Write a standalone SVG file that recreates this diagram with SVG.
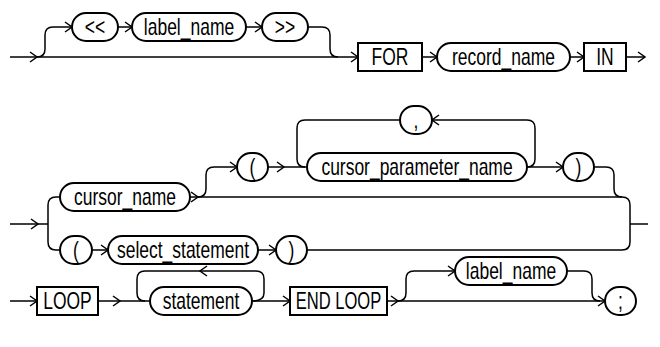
<svg xmlns="http://www.w3.org/2000/svg" width="660" height="347" viewBox="0 0 660 347">
<defs>
<style>
.n{fill:#fff;stroke:#000;stroke-width:2}
.t{font-family:"Liberation Sans",Arial,sans-serif;font-size:23px;fill:#000;text-anchor:middle}
.c{fill:none;stroke:#000;stroke-width:1.5}
</style>
<path id="ar" d="M-7,-5 L0,0 L-7,5" fill="none" stroke="#000" stroke-width="1.5"/>
<path id="al" d="M7,-5 L0,0 L7,5" fill="none" stroke="#000" stroke-width="1.5"/>
</defs>
<rect width="660" height="347" fill="#fff"/>
<g id="connectors">
<path class="c" d="M10,57 H358"/>
<path class="c" d="M37,57 Q45,57 45,49 V35 Q45,27 53,27 H72"/>
<path class="c" d="M118,27 H132 M246,27 H262"/>
<path class="c" d="M308,27 H322 Q330,27 330,35 V49 Q330,57 338,57"/>
<path class="c" d="M422,57 H437 M570,57 H584 M626,57 H645"/>
<use href="#ar" x="37" y="57"/><use href="#ar" x="72" y="27"/><use href="#ar" x="132" y="27"/><use href="#ar" x="262" y="27"/>
<use href="#ar" x="358" y="57"/><use href="#ar" x="437" y="57"/><use href="#ar" x="584" y="57"/><use href="#ar" x="645" y="57"/>

<path class="c" d="M10,224 H48 M48,224 V205 Q48,197 56,197 H60 M48,224 V242 Q48,250 56,250 H60"/>
<path class="c" d="M190,197 H622 Q630,197 630,205 V242 Q630,250 622,250 H307"/>
<path class="c" d="M198,197 Q206,197 206,189 V175 Q206,167 214,167 H237"/>
<path class="c" d="M268,167 H307"/>
<path class="c" d="M527,167 Q535,167 535,159 V128 Q535,120 527,120 H432 M400,120 H305 Q297,120 297,128 V159 Q297,167 305,167"/>
<path class="c" d="M527,167 H563"/>
<path class="c" d="M594,167 H606 Q614,167 614,175 V189 Q614,197 622,197"/>
<path class="c" d="M630,224 H648"/>
<path class="c" d="M92,250 H108 M258,250 H276"/>
<use href="#ar" x="38" y="224"/><use href="#ar" x="198" y="197"/><use href="#ar" x="237" y="167"/><use href="#ar" x="284" y="167"/>
<use href="#al" x="432" y="120"/><use href="#ar" x="563" y="167"/><use href="#ar" x="108" y="250"/><use href="#ar" x="276" y="250"/>

<path class="c" d="M10,301 H37 M98,301 H150"/>
<path class="c" d="M252,301 Q264,301 264,293 V279 Q264,271 256,271 H145 Q137,271 137,279 V293 Q137,301 145,301"/>
<path class="c" d="M252,301 H290 M387,301 H605"/>
<path class="c" d="M398,301 Q406,301 406,293 V279 Q406,271 414,271 H455"/>
<path class="c" d="M567,271 H584 Q592,271 592,279 V293 Q592,301 600,301"/>
<use href="#ar" x="37" y="301"/><use href="#ar" x="120" y="301"/><use href="#al" x="200" y="271"/><use href="#ar" x="290" y="301"/>
<use href="#ar" x="398" y="301"/><use href="#ar" x="455" y="271"/><use href="#ar" x="605" y="301"/>
</g>

<g id="n_lt"><rect class="n" x="72" y="13" width="46" height="28" rx="14"/><text class="t" transform="translate(95,35) scale(0.76,1)">&lt;&lt;</text></g>
<g id="n_label1"><rect class="n" x="132" y="13" width="114" height="28" rx="14"/><text class="t" transform="translate(189,35) scale(0.76,1)">label_name</text></g>
<g id="n_gt"><rect class="n" x="262" y="13" width="46" height="28" rx="14"/><text class="t" transform="translate(285,35) scale(0.76,1)">&gt;&gt;</text></g>
<g id="n_for"><rect class="n" x="358" y="43" width="64" height="28"/><text class="t" transform="translate(390,65) scale(0.76,1)">FOR</text></g>
<g id="n_record"><rect class="n" x="437" y="43" width="133" height="28" rx="14"/><text class="t" transform="translate(503.5,65) scale(0.76,1)">record_name</text></g>
<g id="n_in"><rect class="n" x="584" y="43" width="42" height="28"/><text class="t" transform="translate(605,65) scale(0.76,1)">IN</text></g>

<g id="n_comma"><rect class="n" x="400" y="106" width="32" height="28" rx="14"/><text class="t" transform="translate(416,128) scale(0.76,1)">,</text></g>
<g id="n_lp1"><rect class="n" x="237" y="153" width="31" height="28" rx="14"/><text class="t" transform="translate(252.5,175) scale(0.76,1)">(</text></g>
<g id="n_cpn"><rect class="n" x="307" y="153" width="220" height="28" rx="14"/><text class="t" transform="translate(417,175) scale(0.76,1)">cursor_parameter_name</text></g>
<g id="n_rp1"><rect class="n" x="563" y="153" width="31" height="28" rx="14"/><text class="t" transform="translate(578.5,175) scale(0.76,1)">)</text></g>
<g id="n_cursor"><rect class="n" x="60" y="183" width="130" height="28" rx="14"/><text class="t" transform="translate(125,205) scale(0.76,1)">cursor_name</text></g>
<g id="n_lp2"><rect class="n" x="60" y="236" width="32" height="28" rx="14"/><text class="t" transform="translate(76,258) scale(0.76,1)">(</text></g>
<g id="n_select"><rect class="n" x="108" y="236" width="150" height="28" rx="14"/><text class="t" transform="translate(183,258) scale(0.76,1)">select_statement</text></g>
<g id="n_rp2"><rect class="n" x="276" y="236" width="31" height="28" rx="14"/><text class="t" transform="translate(291.5,258) scale(0.76,1)">)</text></g>

<g id="n_loop"><rect class="n" x="37" y="287" width="61" height="28"/><text class="t" transform="translate(67.5,309) scale(0.76,1)">LOOP</text></g>
<g id="n_stmt"><rect class="n" x="150" y="287" width="102" height="28" rx="14"/><text class="t" transform="translate(201,309) scale(0.76,1)">statement</text></g>
<g id="n_endloop"><rect class="n" x="290" y="287" width="97" height="28"/><text class="t" transform="translate(338.5,309) scale(0.72,1)">END LOOP</text></g>
<g id="n_label2"><rect class="n" x="455" y="257" width="112" height="28" rx="14"/><text class="t" transform="translate(511,279) scale(0.76,1)">label_name</text></g>
<g id="n_semi"><rect class="n" x="605" y="287" width="31" height="28" rx="14"/><text class="t" transform="translate(620.5,309) scale(0.76,1)">;</text></g>
</svg>
